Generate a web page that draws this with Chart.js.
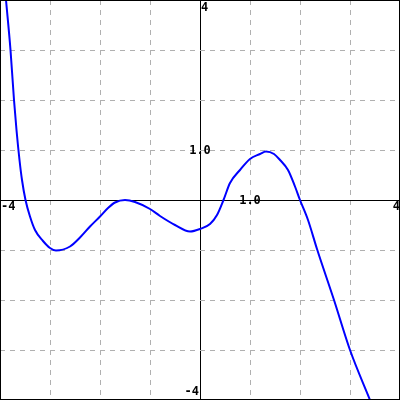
<!DOCTYPE html>
<html>
<head>
<meta charset="utf-8">
<script src="https://cdn.jsdelivr.net/npm/chart.js@4.4.0/dist/chart.umd.min.js"></script>
<style>
  html, body { margin: 0; padding: 0; background: #fff; }
  #wrap { width: 400px; height: 400px; }
</style>
</head>
<body>
<div id="wrap"><canvas id="c" width="400" height="400"></canvas></div>
<script>
  // curve samples
  var xs = [-3.88, -3.79, -3.72, -3.67, -3.61, -3.56, -3.49, -3.4, -3.3, -3.14, -3.0, -2.88,
            -2.6, -2.4, -2.2, -2.0, -1.84, -1.7, -1.5, -1.3, -1.0, -0.8, -0.5, -0.2,
            0.0, 0.2, 0.34, 0.47, 0.6, 0.8, 1.0, 1.2, 1.32, 1.48, 1.6, 1.76, 1.9,
            2.0, 2.16, 2.34, 2.68, 3.0, 3.4];
  var ys = [4.0, 3.0, 2.0, 1.4, 0.8, 0.4, 0.0, -0.33, -0.6, -0.82, -0.96, -1.01,
            -0.93, -0.75, -0.53, -0.33, -0.16, -0.05, 0.0, -0.04, -0.18, -0.32, -0.5, -0.63,
            -0.58, -0.48, -0.3, 0.0, 0.34, 0.6, 0.82, 0.92, 0.97, 0.92, 0.8, 0.6, 0.27,
            0.0, -0.4, -0.98, -2.0, -3.0, -4.0];

  var axisMin = -4, axisMax = 4;
  var axisLabels = ["-4", "4", "1.0"];

  var points = xs.map(function (x, i) { return { x: x, y: ys[i] }; });

  function gridColor(ctx) {
    var v = ctx.tick ? ctx.tick.value : null;
    return v === 0 ? "#000000" : "#b0b0b0";
  }
  function gridDash(ctx) {
    var v = ctx.tick ? ctx.tick.value : null;
    return v === 0 ? [] : [5, 5];
  }

  // frame + axis labels
  var labelsPlugin = {
    id: "labels",
    afterDraw: function (chart) {
      var c = chart.ctx;
      var sx = chart.scales.x, sy = chart.scales.y;
      var ox = Math.round(sx.getPixelForValue(0)), oy = Math.round(sy.getPixelForValue(0));
      c.save();
      c.strokeStyle = "#000";
      c.lineWidth = 1;
      c.strokeRect(0.5, 0.5, chart.width - 1, chart.height - 1);
      c.fillStyle = "#000";
      c.font = "bold 12px 'DejaVu Sans Mono'";
      c.textBaseline = "top";
      c.textAlign = "left";
      c.fillText(axisLabels[1], ox + 1, 2);
      c.fillText(axisLabels[0], 1, oy + 1);
      c.textAlign = "right";
      c.fillText(axisLabels[1], chart.width, oy + 1);
      c.textBaseline = "bottom";
      c.fillText(axisLabels[0], ox - 1, chart.height - 2);
      c.textAlign = "center";
      c.textBaseline = "middle";
      c.fillText(axisLabels[2], ox, sy.getPixelForValue(1) + 1);
      c.fillText(axisLabels[2], sx.getPixelForValue(1), oy + 1);
      c.restore();
    }
  };

  new Chart(document.getElementById("c"), {
    type: "line",
    data: {
      datasets: [{
        data: points,
        borderColor: "#0000ff",
        borderWidth: 2,
        pointRadius: 0,
        cubicInterpolationMode: "monotone",
        fill: false
      }]
    },
    options: {
      responsive: false,
      animation: false,
      layout: { padding: 0 },
      plugins: { legend: { display: false }, tooltip: { enabled: false } },
      scales: {
        x: {
          type: "linear",
          min: axisMin,
          max: axisMax,
          ticks: { display: false, stepSize: 1 },
          grid: { color: gridColor, drawTicks: false },
          border: { display: false, dash: gridDash }
        },
        y: {
          type: "linear",
          min: axisMin,
          max: axisMax,
          ticks: { display: false, stepSize: 1 },
          grid: { color: gridColor, drawTicks: false },
          border: { display: false, dash: gridDash }
        }
      }
    },
    plugins: [labelsPlugin]
  });
</script>
</body>
</html>
